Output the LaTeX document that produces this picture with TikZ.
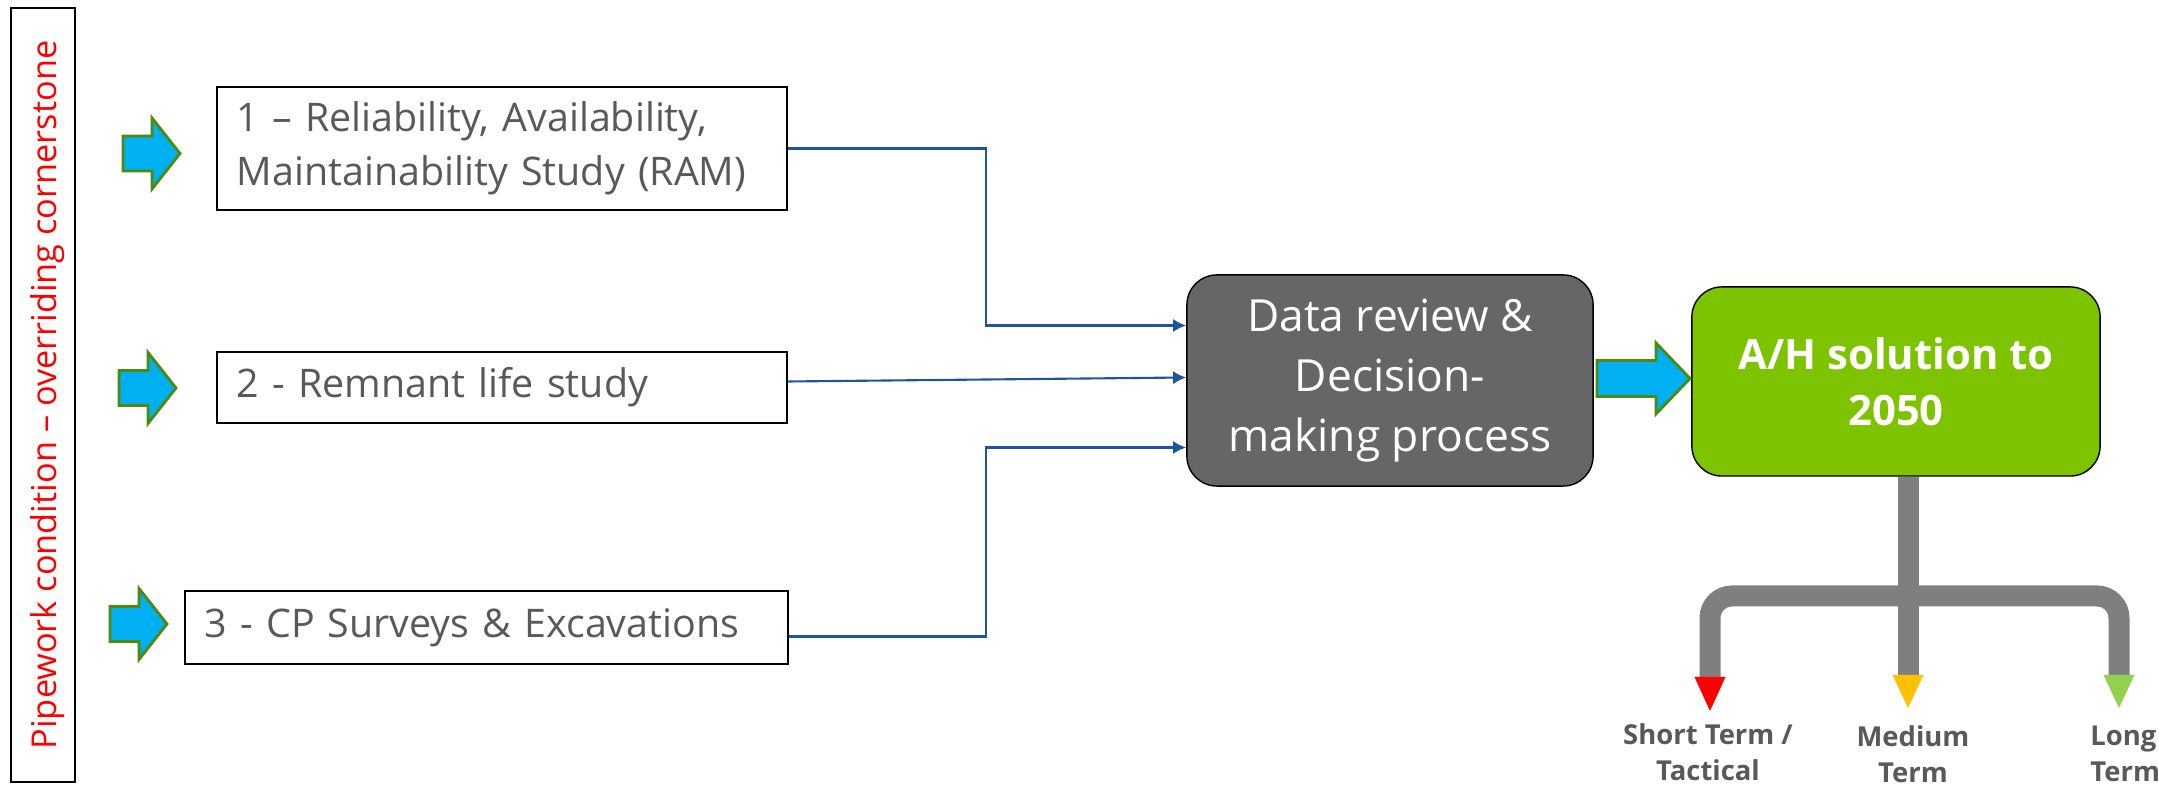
\documentclass[tikz,border=0pt]{standalone}
\usepackage{fontspec}
\setmainfont{Open Sans}
\usetikzlibrary{arrows.meta,calc}
\definecolor{txtgray}{HTML}{595959}
\definecolor{linkblue}{HTML}{1F55A0}
\definecolor{pipegray}{HTML}{7F7F7F}
\definecolor{boxgray}{HTML}{666666}
\definecolor{solgreen}{HTML}{7DC300}
\definecolor{cyanarrow}{HTML}{00B0F0}
\definecolor{arrowedge}{HTML}{4E8A0E}
\definecolor{midorange}{HTML}{FFC000}
\definecolor{longgreen}{HTML}{92D050}
\begin{document}
\begin{tikzpicture}[x=0.01cm,y=-0.01cm,
  study/.style={draw=black,line width=0.6pt,fill=white,text=txtgray,align=left,inner xsep=0.2cm,font=\fontsize{11.2}{15.5}\selectfont},
  link/.style={draw=linkblue,line width=0.6pt,-{Latex[length=3.7pt,width=3.7pt]}},
  pipe/.style={draw=pipegray,line width=0.21cm,rounded corners=0.22cm},
  push/.style={fill=cyanarrow,draw=arrowedge,line width=0.8pt},
  term/.style={text=txtgray,font=\bfseries\fontsize{7.8}{10.3}\selectfont,align=center}]
\useasboundingbox (0,0) rectangle (2159,789);
\draw (43,395) node[draw,line width=0.6pt,minimum width=0.64cm,minimum height=7.74cm] (frame) {};
\draw (48,395) node[rotate=90,text=red,font=\fontsize{9.75}{11}\selectfont] (corner) {Pipework condition – overriding cornerstone};

\draw (502,148.5) node[study,text width=5.3cm,minimum height=1.23cm] (ram) {1 – Reliability, Availability,\\Maintainability Study (RAM)};
\draw (502,387.5) node[study,text width=5.3cm,minimum height=0.71cm] (life) {2 - Remnant life study};
\draw (486.5,627.5) node[study,text width=5.63cm,minimum height=0.73cm] (cp) {3 - CP Surveys \& Excavations};

\foreach \x/\y in {123/153.5,119/388,110/624}
  \draw[push] (\x,\y-17.5) -- (\x+29,\y-17.5) -- (\x+29,\y-35.5) -- (\x+57,\y) -- (\x+29,\y+35.5) -- (\x+29,\y+17.5) -- (\x,\y+17.5) -- cycle;

\draw (1390,380.5) node[draw=black,fill=boxgray,rounded corners=0.3cm,minimum width=4.06cm,minimum height=2.11cm,text=white,align=center,font=\fontsize{12.6}{17}\selectfont] (decide) {Data review \&\\Decision-\\making process};
\draw (1896,381.5) node[draw=black,fill=solgreen,rounded corners=0.3cm,minimum width=4.08cm,minimum height=1.89cm,text=white,align=center,font=\bfseries\fontsize{11.9}{16}\selectfont] (solution) {A/H solution to\\2050};

\draw[link] (ram.east) -- ++(198,0) |- ($(decide.west)+(0,-55)$);
\draw[link] ($(life.east)+(0,-6)$) -- ($(decide.west)+(0,-3)$);
\draw[link] ($(cp.east)+(0,9)$) -- ++(197,0) |- ($(decide.west)+(0,67)$);

\draw[push] (1597,360.5) -- (1656,360.5) -- (1656,343) -- (1690,378.5) -- (1656,414) -- (1656,396.5) -- (1597,396.5) -- cycle;

\coordinate (short) at (1710,677);
\coordinate (medium) at (1908,675);
\coordinate (long) at (2119,675);
\draw[pipe] ($(solution.south)+(12,0)$) -- (medium);
\draw[pipe] (short) -- (1710,596) -- (2119,596) -- (long);
\fill[red] ($(short)+(-15.5,0)$) -- ($(short)+(15.5,0)$) -- ($(short)+(0,34)$) -- cycle;
\fill[midorange] ($(medium)+(-15.5,0)$) -- ($(medium)+(15.5,0)$) -- ($(medium)+(0,33)$) -- cycle;
\fill[longgreen] ($(long)+(-15.5,0)$) -- ($(long)+(15.5,0)$) -- ($(long)+(0,33)$) -- cycle;

\draw (1708,752) node[term] (shortlbl) {Short Term /\\Tactical};
\draw (1913,754) node[term] (mediumlbl) {Medium\\Term};
\draw (2078,754) node[term,anchor=west,align=left] (longlbl) {Long\\Term};
\end{tikzpicture}
\end{document}
